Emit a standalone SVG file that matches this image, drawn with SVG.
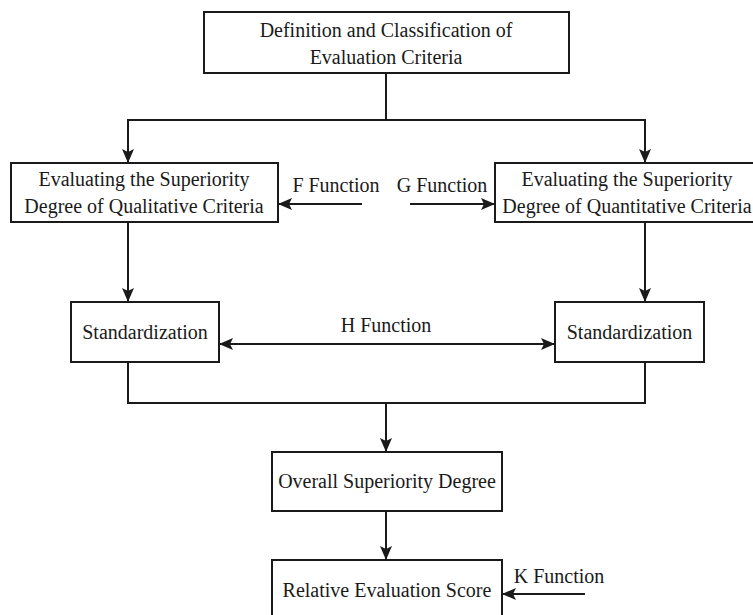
<svg xmlns="http://www.w3.org/2000/svg" width="753" height="615" viewBox="0 0 753 615">
<style>
.box{fill:#fff;stroke:#1a1a1a;stroke-width:2}
.t{font-family:"Liberation Serif","Times New Roman",serif;font-size:20px;fill:#1a1a1a;text-anchor:middle}
.c{fill:none;stroke:#1a1a1a;stroke-width:2}
</style>
<defs>
<marker id="ah" markerUnits="userSpaceOnUse" markerWidth="14" markerHeight="12" refX="13" refY="6" orient="auto-start-reverse" viewBox="0 0 14 12">
<path d="M0,0 L14,6 L0,12 L3,6 Z" fill="#1a1a1a"/>
</marker>
</defs>
<rect width="753" height="615" fill="#fff"/>
<g id="connectors">
<polyline class="c" points="386,73 386,120"/>
<polyline class="c" points="128,120 645,120"/>
<line class="c" x1="128" y1="119" x2="128" y2="162" marker-end="url(#ah)"/>
<line class="c" x1="645" y1="119" x2="645" y2="162" marker-end="url(#ah)"/>
<line class="c" x1="362" y1="204" x2="279" y2="204" marker-end="url(#ah)"/>
<line class="c" x1="410" y1="204" x2="494" y2="204" marker-end="url(#ah)"/>
<line class="c" x1="128" y1="222" x2="128" y2="301" marker-end="url(#ah)"/>
<line class="c" x1="645" y1="222" x2="645" y2="301" marker-end="url(#ah)"/>
<line class="c" x1="220" y1="344" x2="554" y2="344" marker-start="url(#ah)" marker-end="url(#ah)"/>
<polyline class="c" points="128,362 128,403 645,403 645,362"/>
<line class="c" x1="386" y1="403" x2="386" y2="451" marker-end="url(#ah)"/>
<line class="c" x1="386" y1="511" x2="386" y2="559" marker-end="url(#ah)"/>
<line class="c" x1="585" y1="594" x2="503" y2="594" marker-end="url(#ah)"/>
<text class="t" x="336" y="192">F Function</text>
<text class="t" x="442" y="192">G Function</text>
<text class="t" x="386" y="332">H Function</text>
<text class="t" x="559" y="583">K Function</text>
</g>
<g id="n-definition">
<rect class="box" x="204" y="12" width="365" height="61"/>
<text class="t" x="386" y="36.5">Definition and Classification of</text>
<text class="t" x="386" y="63.5">Evaluation Criteria</text>
</g>
<g id="n-qualitative">
<rect class="box" x="11" y="163" width="267" height="59"/>
<text class="t" x="144" y="186">Evaluating the Superiority</text>
<text class="t" x="144" y="213">Degree of Qualitative Criteria</text>
</g>
<g id="n-quantitative">
<rect class="box" x="495" y="163" width="264" height="59"/>
<text class="t" x="627" y="186">Evaluating the Superiority</text>
<text class="t" x="627" y="213">Degree of Quantitative Criteria</text>
</g>
<g id="n-std-left">
<rect class="box" x="71" y="302" width="148" height="60"/>
<text class="t" x="145" y="339">Standardization</text>
</g>
<g id="n-std-right">
<rect class="box" x="555" y="302" width="149" height="60"/>
<text class="t" x="629.5" y="339">Standardization</text>
</g>
<g id="n-overall">
<rect class="box" x="272" y="452" width="230" height="59"/>
<text class="t" x="387" y="488">Overall Superiority Degree</text>
</g>
<g id="n-relative">
<rect class="box" x="272" y="560" width="230" height="80"/>
<text class="t" x="387" y="597">Relative Evaluation Score</text>
</g>
</svg>
